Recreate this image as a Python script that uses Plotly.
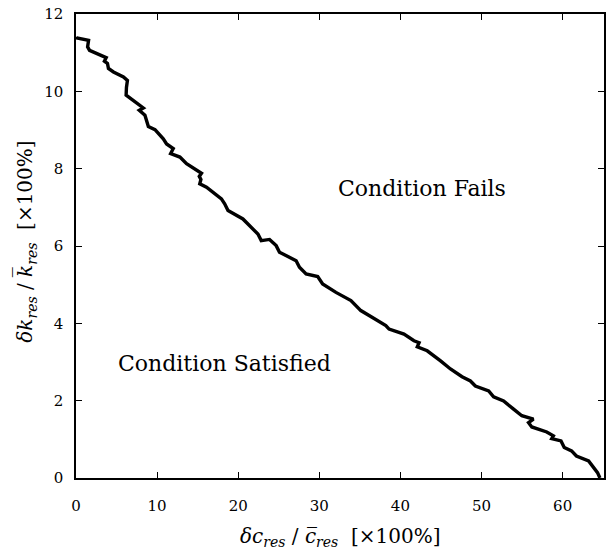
import plotly.graph_objects as go

# Boundary curve
dc = [0.0, 0.1, 1.55, 1.43, 1.67, 2.98, 3.72, 3.5, 3.88, 4.0, 4.62, 5.85, 6.34, 6.22, 6.18,
      6.88, 7.9, 8.3, 7.8, 8.5, 8.92, 9.74, 10.76, 11.17, 11.99, 11.67, 12.81, 13.63,
      15.47, 15.2, 15.4, 15.26, 16.09, 17.93, 18.33, 18.74, 20.58, 22.43, 22.84, 23.86,
      24.68, 25.09, 27.14, 27.55, 28.37, 29.8, 30.41, 32.05, 33.9, 35.12, 36.55, 37.6,
      38.2, 38.6, 40.44, 41.67, 42.3, 42.08, 43.3, 44.95, 46.17, 47.6, 48.63, 49.24,
      50.88, 51.49, 52.72, 53.95, 54.97, 56.4, 55.8, 56.2, 58.04, 58.86, 58.66, 59.8,
      60.2, 61.1, 61.7, 63.2, 63.8, 64.3, 64.6]
dk = [11.40, 11.38, 11.32, 11.15, 11.06, 10.93, 10.87, 10.78, 10.72, 10.59, 10.50, 10.37,
      10.28, 10.10, 9.90, 9.79, 9.64, 9.57, 9.51, 9.38, 9.09, 9.01, 8.77, 8.64, 8.52, 8.39,
      8.30, 8.13, 7.88, 7.80, 7.72, 7.61, 7.52, 7.22, 7.09, 6.92, 6.70, 6.31, 6.14, 6.17,
      6.01, 5.84, 5.62, 5.45, 5.28, 5.21, 5.02, 4.80, 4.59, 4.33, 4.15, 4.02, 3.94, 3.85,
      3.72, 3.55, 3.50, 3.39, 3.29, 3.03, 2.82, 2.62, 2.51, 2.38, 2.25, 2.10, 1.99, 1.78,
      1.61, 1.52, 1.43, 1.32, 1.19, 1.09, 1.02, 0.96, 0.79, 0.70, 0.57, 0.44, 0.28, 0.14, 0.0]

x_ticks = [0, 10, 20, 30, 40, 50, 60]
y_ticks = [0, 2, 4, 6, 8, 10, 12]

region_labels = ["Condition Fails", "Condition Satisfied"]
region_x = [42.6, 18.3]
region_y = [7.48, 2.95]

FONT = "DejaVu Serif"

fig = go.Figure()
fig.add_trace(go.Scatter(x=dc, y=dk, mode="lines",
                         line=dict(color="black", width=3.4), showlegend=False,
                         hoverinfo="skip"))

for t, xx, yy in zip(region_labels, region_x, region_y):
    fig.add_annotation(x=xx, y=yy, text=t, showarrow=False,
                       font=dict(family=FONT, size=22, color="black"))

fig.add_annotation(xref="paper", yref="paper", x=0.5, y=-0.128, yanchor="middle",
                   text="<i>δc</i><sub><i>res</i></sub> / <i>c\u0305</i><sub><i>res</i></sub>  [×100%]",
                   showarrow=False, font=dict(family=FONT, size=20, color="black"))
fig.add_annotation(xref="paper", yref="paper", x=-0.094, y=0.51, xanchor="center",
                   textangle=-90,
                   text="<i>δk</i><sub><i>res</i></sub> / <i>k\u0305</i><sub><i>res</i></sub>  [×100%]",
                   showarrow=False, font=dict(family=FONT, size=20, color="black"))

axis_common = dict(showgrid=False, zeroline=False, showline=True, linecolor="black",
                   linewidth=1.5, mirror="ticks", ticks="inside", ticklen=6,
                   tickwidth=1, tickcolor="black",
                   tickfont=dict(family=FONT, size=15, color="black"))

fig.update_xaxes(range=[0, 65.1], tickvals=x_ticks, ticktext=[str(v) for v in x_ticks],
                 ticklabelstandoff=13, **axis_common)
fig.update_yaxes(range=[0, 12], tickvals=y_ticks, ticktext=[str(v) for v in y_ticks],
                 ticklabelstandoff=8, **axis_common)

fig.update_layout(width=606, height=554, margin=dict(l=76, r=0, t=14, b=76),
                  plot_bgcolor="white", paper_bgcolor="white",
                  font=dict(family=FONT, color="black"))

fig.write_html("out.html")
